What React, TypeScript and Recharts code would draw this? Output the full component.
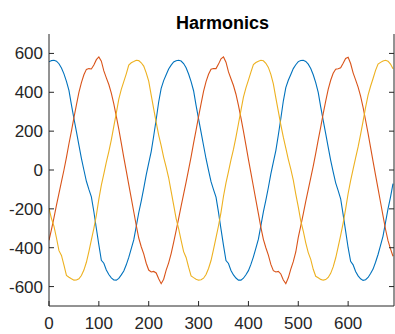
import React from 'react';
import { LineChart, Line, XAxis, YAxis } from 'recharts';

const title = 'Harmonics';
const xStep = 5;
const xTicks = [0, 100, 200, 300, 400, 500, 600];
const yTicks = [-600, -400, -200, 0, 200, 400, 600];
const xDomain: [number, number] = [0, 692];
const yDomain: [number, number] = [-700, 700];

// Phase 1 (blue)
const blue = [
  557, 563, 565, 560, 547, 525, 495, 456, 410, 335,
  265, 197, 128, 60, 0, -58, -100, -138, -215, -301,
  -385, -465, -480, -515, -538, -555, -566, -567, -558, -540,
  -520, -488, -450, -405, -360, -290, -220, -160, -95, -25,
  35, 95, 175, 260, 350, 420, 460, 490, 520, 540,
  556, 562, 565, 561, 548, 526, 494, 455, 408, 333,
  263, 195, 126, 58, -2, -60, -101, -140, -218, -304,
  -388, -466, -481, -517, -540, -556, -567, -567, -557, -539,
  -518, -486, -447, -402, -356, -286, -216, -155, -90, -20,
  40, 100, 180, 265, 355, 424, 462, 492, 522, 542,
  558, 564, 565, 559, 545, 522, 490, 450, 400, 325,
  255, 187, 118, 50, -10, -66, -106, -148, -230, -315,
  -400, -470, -488, -522, -545, -560, -568, -565, -553, -533,
  -510, -475, -435, -388, -340, -270, -200, -140, -70,
];

// Phase 2 (orange)
const orange = [
  -362, -305, -245, -181, -120, -60, 0, 65, 135, 200,
  270, 335, 400, 450, 490, 518, 522, 520, 540, 568,
  582, 560, 510, 474, 440, 396, 340, 276, 210, 138,
  65, -5, -75, -145, -215, -285, -350, -395, -432, -480,
  -515, -525, -522, -530, -560, -585, -562, -515, -478, -430,
  -372, -312, -250, -186, -124, -62, 2, 68, 138, 205,
  275, 340, 405, 455, 493, 519, 522, 522, 545, 572,
  582, 555, 505, 470, 435, 390, 333, 268, 200, 128,
  55, -15, -85, -155, -225, -295, -357, -400, -438, -486,
  -518, -525, -522, -535, -566, -585, -555, -510, -472, -422,
  -347, -287, -226, -162, -101, -41, 20, 86, 155, 221,
  290, 355, 415, 462, 498, 519, 521, 526, 549, 574,
  580, 548, 500, 464, 427, 380, 322, 256, 188, 116,
  44, -26, -96, -166, -236, -305, -364, -406, -444,
];

// Phase 3 (yellow)
const yellow = [
  -198, -250, -290, -350, -415, -440, -490, -543, -552, -560,
  -567, -566, -560, -543, -515, -475, -420, -360, -300, -233,
  -150, -78, -20, 40, 95, 155, 225, 293, 365, 415,
  455, 495, 540, 552, 558, 565, 563, 552, 535, 500,
  457, 385, 315, 245, 180, 125, 65, 15, -40, -110,
  -180, -250, -302, -362, -420, -450, -500, -545, -554, -562,
  -567, -565, -557, -538, -507, -466, -408, -348, -287, -218,
  -135, -66, -8, 52, 106, 169, 238, 307, 375, 423,
  463, 504, 543, 553, 560, 565, 562, 549, 528, 492,
  443, 371, 302, 232, 169, 113, 55, 4, -52, -124,
  -190, -262, -314, -375, -425, -460, -511, -547, -555, -563,
  -567, -564, -553, -532, -499, -453, -396, -336, -273, -200,
  -121, -55, 4, 62, 119, 183, 252, 322, 385, 431,
  471, 513, 545, 554, 561, 565, 560, 545, 521,
];

const data = blue.map((b, i) => ({ x: i * xStep, blue: b, orange: orange[i], yellow: yellow[i] }));

const FONT = '"Liberation Sans", Arial, Helvetica, sans-serif';
const AXIS = '#262626';
const NoLabel = () => <g />;

export default function App() {
  return (
    <div style={{ position: 'absolute', left: 0, top: 0, width: 395, height: 334, background: '#fff', fontFamily: FONT }}>
      <div
        style={{
          position: 'absolute',
          left: 49,
          width: 347,
          top: 14,
          textAlign: 'center',
          fontWeight: 700,
          fontSize: 18,
          lineHeight: '18px',
          color: '#000',
          fontFamily: FONT,
        }}
      >
        {title}
      </div>
      <LineChart width={395} height={334} data={data} margin={{ top: 34, right: 0, bottom: 0, left: 0 }}>
        <XAxis
          xAxisId="b"
          dataKey="x"
          type="number"
          domain={xDomain}
          ticks={xTicks}
          interval={0}
          allowDataOverflow
          height={28}
          tickSize={-5}
          tickMargin={16}
          stroke={AXIS}
          tick={{ fill: AXIS, fontSize: 17, fontFamily: FONT }}
        />
        <XAxis
          xAxisId="t"
          orientation="top"
          type="number"
          domain={xDomain}
          ticks={xTicks}
          interval={0}
          allowDataOverflow
          height={0}
          tickSize={-5}
          tick={NoLabel}
          stroke={AXIS}
        />
        <YAxis
          yAxisId="l"
          type="number"
          domain={yDomain}
          ticks={yTicks}
          interval={0}
          allowDataOverflow
          width={49}
          tickSize={-5}
          tickMargin={11}
          stroke={AXIS}
          tick={{ fill: AXIS, fontSize: 17, fontFamily: FONT }}
        />
        <YAxis
          yAxisId="r"
          orientation="right"
          type="number"
          domain={yDomain}
          ticks={yTicks}
          interval={0}
          allowDataOverflow
          width={1}
          tickSize={-5}
          tick={NoLabel}
          stroke={AXIS}
        />
        <Line xAxisId="b" yAxisId="l" type="linear" dataKey="blue" stroke="#0072BD" strokeWidth={1.1} dot={false} isAnimationActive={false} />
        <Line xAxisId="b" yAxisId="l" type="linear" dataKey="orange" stroke="#D95319" strokeWidth={1.1} dot={false} isAnimationActive={false} />
        <Line xAxisId="b" yAxisId="l" type="linear" dataKey="yellow" stroke="#EDB120" strokeWidth={1.1} dot={false} isAnimationActive={false} />
      </LineChart>
    </div>
  );
}
